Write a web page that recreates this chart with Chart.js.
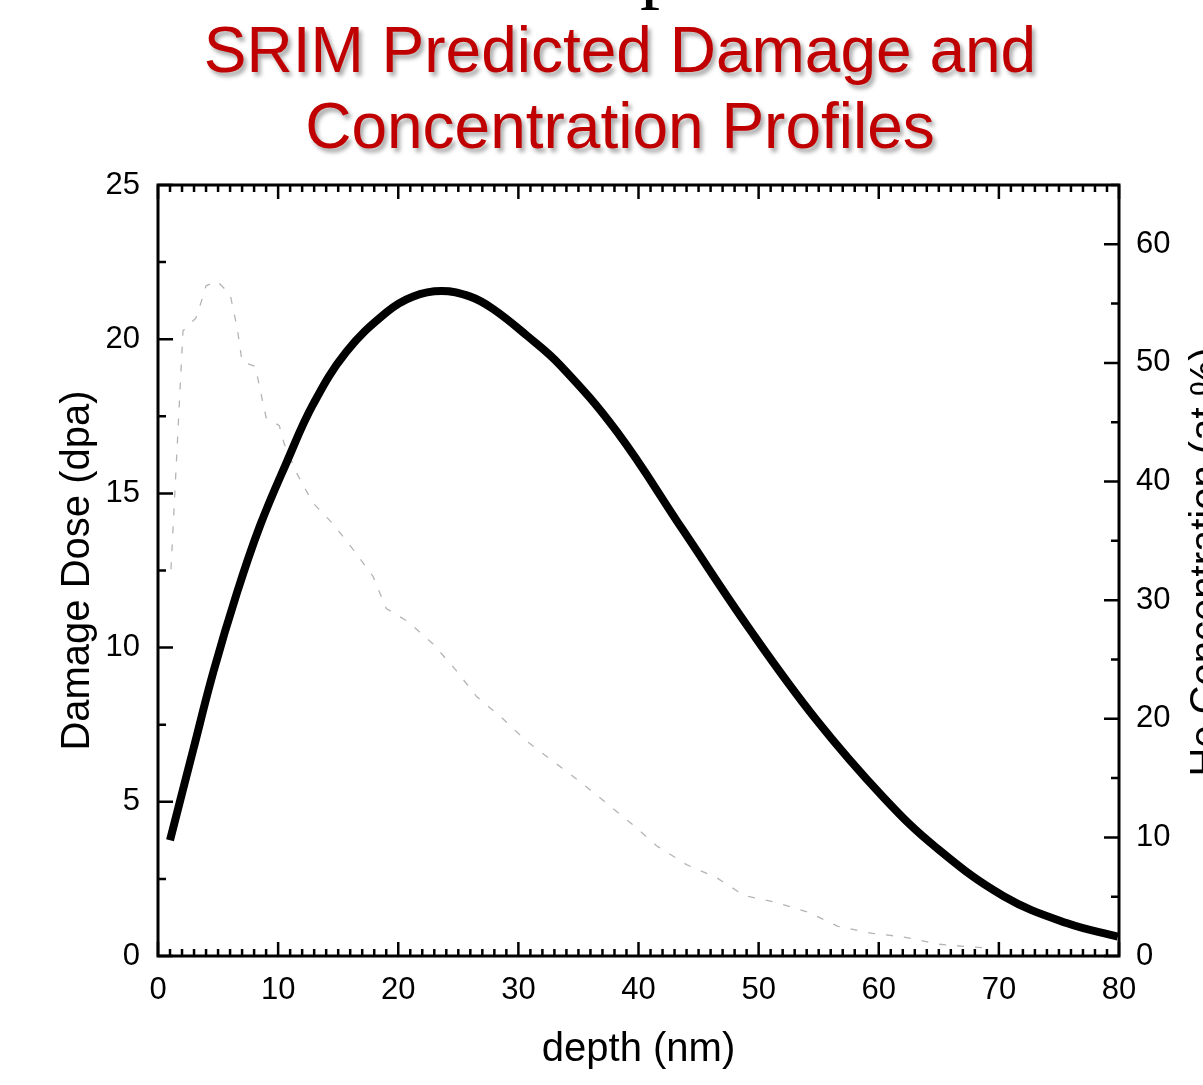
<!DOCTYPE html>
<html lang="en">
<head>
  <meta charset="UTF-8" />
  <title>SRIM Predicted Damage and Concentration Profiles</title>
  <script src="https://cdn.jsdelivr.net/npm/chart.js"></script>
  <style>
    body { margin: 0; background: #fff; overflow: hidden; }
    #wrap { position: relative; width: 1203px; height: 1085px; overflow: hidden; }
    #cut { position: absolute; left: 640px; top: -74px; font: 80px/80px "Liberation Serif", serif; color: #000; }
    #title {
      position: absolute; left: 0; top: 12px; width: 1240px; text-align: center;
      font: 64px/76px "Liberation Sans", Arial, sans-serif; color: #C00000;
      text-shadow: 3px 4px 4px rgba(0,0,0,0.35);
    }
    canvas { position: absolute; left: 0; top: 0; }
  </style>
</head>
<body>
  <div id="wrap">
    <canvas id="chart" width="1203" height="1085"></canvas>
    <div id="cut">p</div>
    <div id="title">SRIM Predicted Damage and<br>Concentration Profiles</div>
  </div>

  <script>
    // damage dose (dpa), left axis
    const damageDepth = [1.0, 2.94, 4.6, 6.55, 8.49, 10.7, 12.93, 15.7, 19.04, 21.2, 23.6, 26.0, 27.9, 30.7, 33.5, 38.2, 43.7, 49.3, 54.8, 60.4, 64.8, 70.4, 75.7, 79.9];
    const damageDose  = [3.75, 6.7, 9.2, 11.75, 13.95, 16.0, 17.9, 19.6, 20.88, 21.38, 21.56, 21.38, 20.98, 20.12, 19.15, 17.0, 13.81, 10.57, 7.66, 5.14, 3.51, 1.94, 1.06, 0.63];

    // He concentration (at.%), right axis
    const heDepth = [1.08, 1.58, 2.08, 3.16, 3.58, 4.0, 4.9, 6.0, 6.6, 7.0, 8.1, 8.7, 9.0, 10.1, 10.5, 11.6, 12.9, 14.6, 16.3, 17.9, 19.0, 20.8, 22.9, 24.8, 26.5, 28.6, 30.7, 32.9, 35.0, 37.2, 39.6, 41.5, 44.0, 46.5, 48.8, 51.5, 54.1, 56.6, 59.5, 62.1, 64.9, 67.8, 69.3];
    const heConc  = [32.6, 42.6, 52.7, 53.8, 55.1, 56.5, 56.9, 55.8, 52.9, 50.1, 49.7, 46.8, 45.4, 44.7, 43.2, 40.6, 38.2, 36.4, 34.2, 32.0, 29.3, 28.2, 26.3, 24.1, 21.9, 20.1, 18.1, 16.4, 14.8, 13.0, 11.0, 9.3, 7.7, 6.6, 5.1, 4.5, 3.7, 2.5, 1.9, 1.6, 1.0, 0.76, 0.67];

    const FONT = '"Liberation Sans", Arial, sans-serif';

    // frame, inward ticks and axis titles
    const framePlugin = {
      id: 'frame',
      afterDraw(chart) {
        const ctx = chart.ctx;
        const a = chart.chartArea;
        const sx = chart.scales.x, sy = chart.scales.y, sy2 = chart.scales.y2;
        ctx.save();
        ctx.strokeStyle = '#000';
        ctx.lineWidth = 3;
        ctx.strokeRect(a.left, a.top, a.right - a.left, a.bottom - a.top);

        ctx.lineWidth = 2.5;
        ctx.beginPath();
        for (let v = 0; v <= 80; v++) {
          const p = sx.getPixelForValue(v);
          const len = v % 10 === 0 ? 14 : 7;
          ctx.moveTo(p, a.bottom); ctx.lineTo(p, a.bottom - len);
          ctx.moveTo(p, a.top); ctx.lineTo(p, a.top + len);
        }
        for (let v = 0; v <= 25; v += 2.5) {
          const p = sy.getPixelForValue(v);
          const len = v % 5 === 0 ? 15 : 8;
          ctx.moveTo(a.left, p); ctx.lineTo(a.left + len, p);
        }
        for (let v = 0; v <= 65; v += 5) {
          const p = sy2.getPixelForValue(v);
          const len = v % 10 === 0 ? 15 : 8;
          ctx.moveTo(a.right, p); ctx.lineTo(a.right - len, p);
        }
        ctx.stroke();

        ctx.fillStyle = '#000';
        ctx.font = '40px ' + FONT;
        ctx.textAlign = 'center';
        ctx.textBaseline = 'alphabetic';
        ctx.fillText('depth (nm)', (a.left + a.right) / 2, 1061);

        ctx.save();
        ctx.translate(89, (a.top + a.bottom) / 2);
        ctx.rotate(-Math.PI / 2);
        ctx.fillText('Damage Dose (dpa)', 0, 0);
        ctx.restore();

        ctx.save();
        ctx.translate(1218, 562);
        ctx.rotate(-Math.PI / 2);
        ctx.fillText('He Concentration (at.%)', 0, 0);
        ctx.restore();
        ctx.restore();
      }
    };

    const tickFont = { family: FONT, size: 31 };

    new Chart(document.getElementById('chart'), {
      type: 'line',
      data: {
        datasets: [
          {
            label: 'Damage Dose',
            data: damageDepth.map((d, i) => ({ x: d, y: damageDose[i] })),
            yAxisID: 'y',
            borderColor: '#000',
            borderWidth: 8,
            pointRadius: 0,
            tension: 0.4,
            fill: false
          },
          {
            label: 'He Concentration',
            data: heDepth.map((d, i) => ({ x: d, y: heConc[i] })),
            yAxisID: 'y2',
            borderColor: '#b4b4b4',
            borderWidth: 1.3,
            borderDash: [7, 11],
            pointRadius: 0,
            tension: 0,
            fill: false
          }
        ]
      },
      options: {
        responsive: false,
        animation: false,
        devicePixelRatio: 1,
        layout: { padding: { top: 185, left: 0, right: 0, bottom: 0 } },
        plugins: { legend: { display: false }, tooltip: { enabled: false }, title: { display: false } },
        scales: {
          x: {
            type: 'linear', min: 0, max: 80,
            grid: { display: false, drawTicks: false },
            border: { display: false },
            ticks: { stepSize: 10, color: '#000', font: tickFont, padding: 16, maxRotation: 0, autoSkip: false },
            afterFit: s => { s.height = 129; }
          },
          y: {
            position: 'left', min: 0, max: 25,
            grid: { display: false, drawTicks: false },
            border: { display: false },
            ticks: { stepSize: 5, color: '#000', font: tickFont, padding: 18, autoSkip: false },
            afterFit: s => { s.width = 158; }
          },
          y2: {
            position: 'right', min: 0, max: 65,
            grid: { display: false, drawTicks: false },
            border: { display: false },
            ticks: { stepSize: 10, color: '#000', font: tickFont, padding: 17, autoSkip: false },
            afterBuildTicks: s => { s.ticks = s.ticks.filter(t => t.value % 10 === 0); },
            afterFit: s => { s.width = 84; }
          }
        }
      },
      plugins: [framePlugin]
    });
  </script>
</body>
</html>
